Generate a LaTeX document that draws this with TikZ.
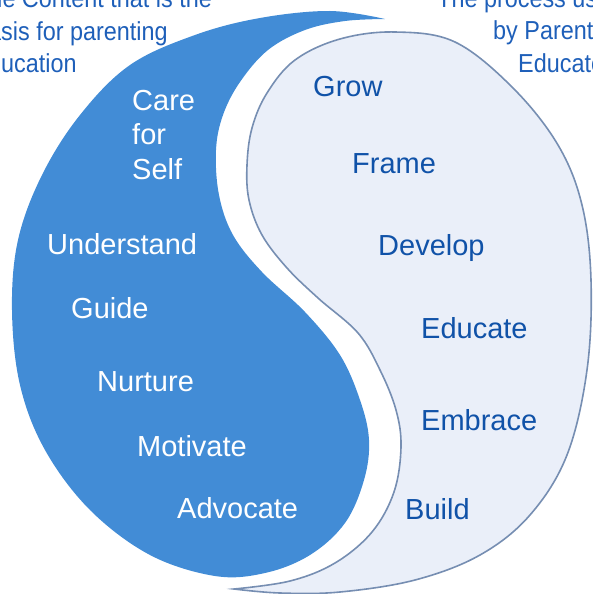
\documentclass[tikz,border=0pt]{standalone}
\usepackage{fontspec}
\usepackage{tikz}
\newfontfamily\wordfont{Liberation Sans}
\newfontfamily\notefont[FakeStretch=0.9]{Liberation Sans}
\definecolor{yinblue}{RGB}{66,140,214}
\definecolor{yangfill}{RGB}{234,239,249}
\definecolor{yangline}{RGB}{118,142,178}
\definecolor{wordblue}{RGB}{16,82,168}
\definecolor{noteblue}{RGB}{30,95,185}
\tikzstyle{yin}=[fill=yinblue]
\tikzstyle{yang}=[fill=yangfill,draw=yangline,line width=1.6pt]
\tikzstyle{inword}=[anchor=base west,inner sep=0pt,text=white,font=\wordfont\fontsize{29}{34.5}\selectfont]
\tikzstyle{outword}=[inword,text=wordblue]
\tikzstyle{note}=[anchor=base west,inner sep=0pt,text=noteblue,font=\notefont\fontsize{26}{32.5}\selectfont]

\begin{document}
\begin{tikzpicture}[x=1pt,y=-1pt]
    \useasboundingbox (0,0) rectangle (592,594);
    % content half
    \fill[yin] plot[smooth,tension=0.6] coordinates {(385,19) (330,11) (260,18) (195,35) (130,65) (80,115) (42,175) (18,240) (12,310) (20,385) (45,450) (90,510) (150,555) (215,576) (265,573) (310,555) (345,523) (364,480) (369,440) (360,400) (340,355) (305,312) (262,272) (233,235) (219,195) (216,150) (223,115) (240,82) (268,50) (305,30) (345,21) (385,19)} -- cycle;
    % process half
    \filldraw[yang] plot[smooth,tension=0.6] coordinates {(234,589) (290,581) (335,563) (372,532) (394,492) (401,447) (396,410) (380,370) (358,333) (318,298) (287,268) (262,235) (249,200) (247,165) (252,128) (267,93) (295,60) (340,39) (395,32) (455,42) (513,88) (558,145) (582,205) (591,280) (587,370) (567,455) (530,515) (480,555) (415,580) (340,592) (280,593) (234,589)} -- cycle;
    \node[note,align=left] (content) at (-25,73) {The Content that is the\\basis for parenting\\education};
    \foreach \pos/\name/\txt in {{(437,8)/used/The process used}, {(493,40)/by/by Parent}, {(518,72)/educators/Educators}}
        \node[note] (\name) at \pos {\txt};
    \node[inword,align=left] (Care) at (132,179) {Care\\for\\Self};
    \foreach \pos/\name in {{(47,254)/Understand}, {(71,318)/Guide}, {(97,391)/Nurture}, {(137,456)/Motivate}, {(177,518)/Advocate}}
        \node[inword] (\name) at \pos {\name};
    \foreach \pos/\name in {{(313,96)/Grow}, {(352,173)/Frame}, {(378,255)/Develop}, {(421,338)/Educate}, {(421,430)/Embrace}, {(405,519)/Build}}
        \node[outword] (\name) at \pos {\name};
\end{tikzpicture}
\end{document}
